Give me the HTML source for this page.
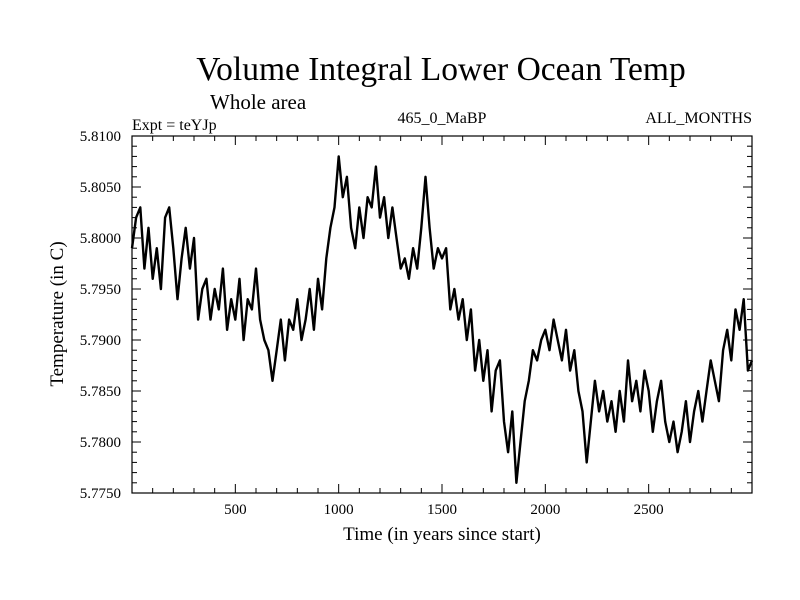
<!DOCTYPE html>
<html><head><meta charset="utf-8"><style>body{margin:0;background:#fff}svg{display:block}text{font-family:"Liberation Serif",serif;fill:#000}</style></head>
<body>
<svg id="chart" width="800" height="600" xmlns="http://www.w3.org/2000/svg">
<text x="441" y="80" font-size="33.5" text-anchor="middle">Volume Integral Lower Ocean Temp</text>
<text x="210" y="109" font-size="21">Whole area</text>
<text x="132" y="130" font-size="16">Expt = teYJp</text>
<text x="442" y="123" font-size="16" text-anchor="middle">465_0_MaBP</text>
<text x="752" y="123" font-size="16" text-anchor="end">ALL_MONTHS</text>
<text x="442" y="540" font-size="19" text-anchor="middle">Time (in years since start)</text>
<text transform="translate(63,314) rotate(-90)" font-size="19" text-anchor="middle">Temperature (in C)</text>
<g id="axes"></g>
<path id="series" fill="none" stroke="#000" stroke-width="2.4" stroke-linejoin="round"/>
<rect x="132" y="136" width="620" height="357" fill="none" stroke="#000" stroke-width="1.2"/>
</svg>
<script>
const years0 = 0, yearStep = 20;
const temps = [5.799,5.802,5.803,5.797,5.801,5.796,5.799,5.795,5.802,5.803,5.799,5.794,5.798,5.801,5.797,5.800,5.792,5.795,5.796,5.792,5.795,5.793,5.797,5.791,5.794,5.792,5.796,5.790,5.794,5.793,5.797,5.792,5.790,5.789,5.786,5.789,5.792,5.788,5.792,5.791,5.794,5.790,5.792,5.795,5.791,5.796,5.793,5.798,5.801,5.803,5.808,5.804,5.806,5.801,5.799,5.803,5.800,5.804,5.803,5.807,5.802,5.804,5.800,5.803,5.800,5.797,5.798,5.796,5.799,5.797,5.801,5.806,5.801,5.797,5.799,5.798,5.799,5.793,5.795,5.792,5.794,5.790,5.793,5.787,5.790,5.786,5.789,5.783,5.787,5.788,5.782,5.779,5.783,5.776,5.780,5.784,5.786,5.789,5.788,5.790,5.791,5.789,5.792,5.790,5.788,5.791,5.787,5.789,5.785,5.783,5.778,5.782,5.786,5.783,5.785,5.782,5.784,5.781,5.785,5.782,5.788,5.784,5.786,5.783,5.787,5.785,5.781,5.784,5.786,5.782,5.780,5.782,5.779,5.781,5.784,5.780,5.783,5.785,5.782,5.785,5.788,5.786,5.784,5.789,5.791,5.788,5.793,5.791,5.794,5.787,5.788];
const xTicks = [500,1000,1500,2000,2500];
const yTicks = [5.775,5.780,5.785,5.790,5.795,5.800,5.805,5.810];
const yTickLabels = ["5.7750","5.7800","5.7850","5.7900","5.7950","5.8000","5.8050","5.8100"];
const L=132,R=752,T=136,B=493,xMin=0,xMax=3000,yMin=5.775,yMax=5.810;
const sx=v=>L+(v-xMin)/(xMax-xMin)*(R-L);
const sy=v=>B-(v-yMin)/(yMax-yMin)*(B-T);
const NS="http://www.w3.org/2000/svg";
const ax=document.getElementById('axes');
function ln(x1,y1,x2,y2){const l=document.createElementNS(NS,'line');l.setAttribute('x1',x1);l.setAttribute('y1',y1);l.setAttribute('x2',x2);l.setAttribute('y2',y2);l.setAttribute('stroke','#000');l.setAttribute('stroke-width','1');


ax.appendChild(l);}
function tx(x,y,s,a){const t=document.createElementNS(NS,'text');t.setAttribute('x',x);t.setAttribute('y',y);t.setAttribute('font-size','15');t.setAttribute('text-anchor',a);t.textContent=s;


ax.appendChild(t);}
for(let v=100;v<xMax;v+=100){const x=sx(v),len=(v%500===0)?9:5;ln(x,B,x,B-len);ln(x,T,x,T+len);}
xTicks.forEach(v=>tx(sx(v),514,String(v),'middle'));
for(let i=0;i<=35;i++){const v=yMin+i*0.001,y=sy(v),len=(i%5===0)?9:5;ln(L,y,L+len,y);ln(R,y,R-len,y);}
yTicks.forEach((v,i)=>tx(121,sy(v)+5,yTickLabels[i],'end'));
let d='';temps.forEach((v,i)=>{d+=(i?'L':'M')+sx(years0+i*yearStep).toFixed(1)+','+sy(v).toFixed(1);});
document.getElementById('series').setAttribute('d',d);
</script>
</body></html>
